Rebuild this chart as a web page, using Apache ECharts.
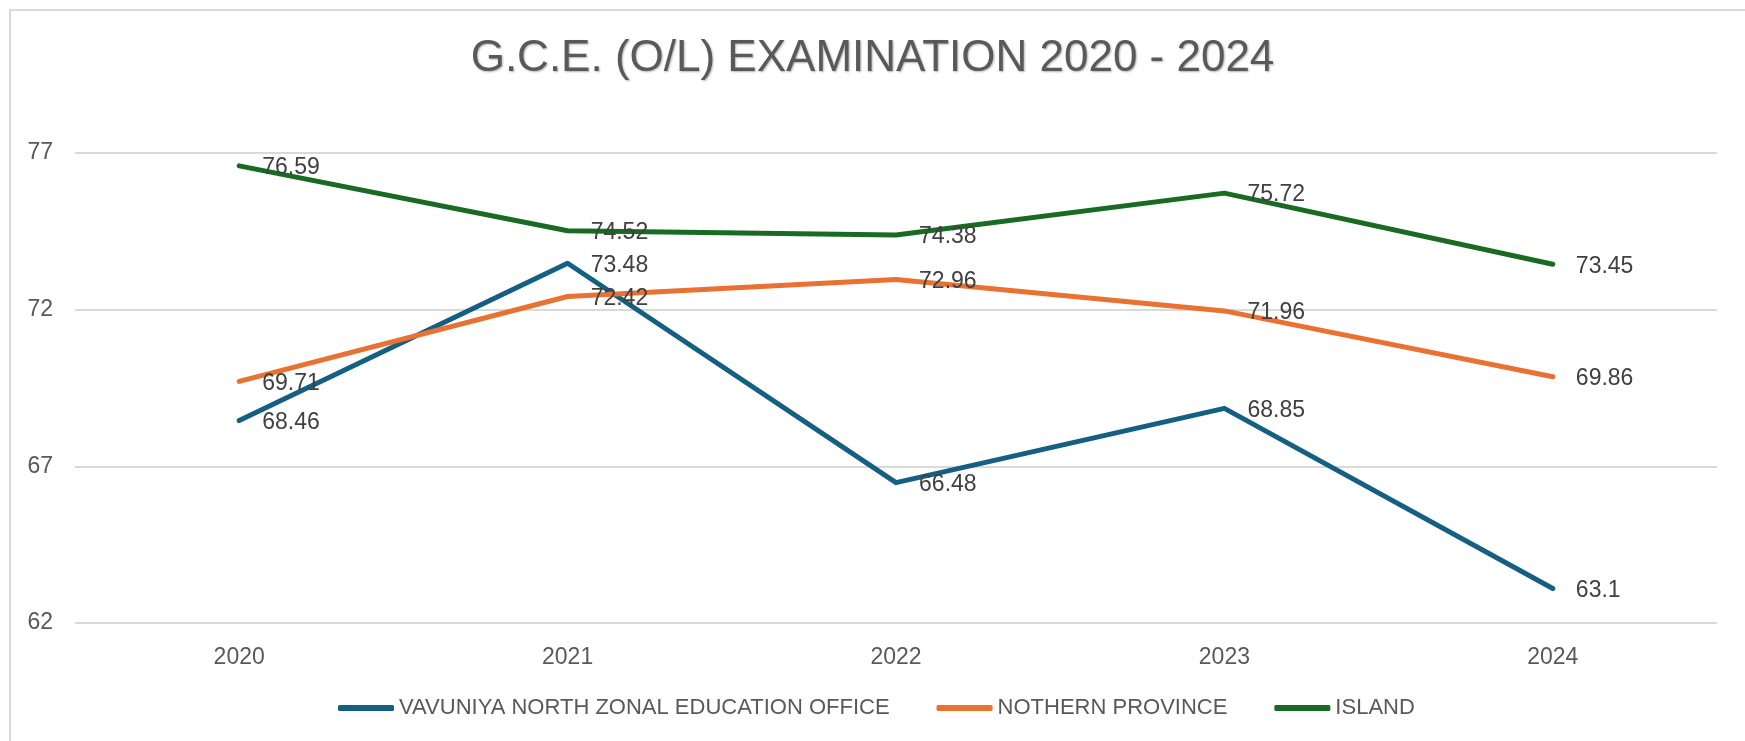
<!DOCTYPE html>
<html>
<head>
    <meta charset="utf-8">
    <title>G.C.E. (O/L) EXAMINATION 2020 - 2024</title>
    <script type="text/javascript" src="https://cdn.jsdelivr.net/npm/echarts@6/dist/echarts.min.js"></script>
    <style>
        html, body { margin: 0; padding: 0; background: #ffffff; }
    </style>
</head>
<body>
<div id="main" style="width: 1745px;height:741px;"></div>
<script type="text/javascript">

    // data
    var years = ['2020', '2021', '2022', '2023', '2024'];
    var vavuniyaNorth = [68.46, 73.48, 66.48, 68.85, 63.1];
    var northernProvince = [69.71, 72.42, 72.96, 71.96, 69.86];
    var island = [76.59, 74.52, 74.38, 75.72, 73.45];

    var seriesNames = ['VAVUNIYA NORTH ZONAL EDUCATION OFFICE', 'NOTHERN PROVINCE', 'ISLAND'];
    var seriesColors = ['#156082', '#e97132', '#196b24'];
    var seriesData = [vavuniyaNorth, northernProvince, island];

    var myChart = echarts.init(document.getElementById('main'));

    function makeLine(i) {
        return {
            name: seriesNames[i],
            type: 'line',
            data: seriesData[i],
            symbol: 'circle',
            symbolSize: 0.1,
            showSymbol: true,
            color: seriesColors[i],
            lineStyle: { width: 5, color: seriesColors[i], cap: 'round', join: 'round' },
            itemStyle: { color: seriesColors[i] },
            label: {
                show: true,
                position: 'right',
                distance: 23,
                offset: [0, 2],
                color: '#404040',
                fontSize: 23,
                fontFamily: 'Liberation Sans'
            },
            emphasis: { disabled: true }
        };
    }

    myChart.setOption({
        animation: false,
        textStyle: { fontFamily: 'Liberation Sans' },
        graphic: [{
            type: 'rect',
            shape: { x: 10, y: 10, width: 1800, height: 800 },
            style: { fill: 'none', stroke: '#d9d9d9', lineWidth: 2 },
            silent: true
        }],
        title: {
            text: 'G.C.E. (O/L) EXAMINATION 2020 - 2024',
            left: 'center',
            top: 32,
            textStyle: {
                color: '#595959',
                fontSize: 44,
                fontWeight: 'normal',
                fontFamily: 'Liberation Sans',
                textShadowColor: 'rgba(0,0,0,0.3)',
                textShadowBlur: 2,
                textShadowOffsetX: 1,
                textShadowOffsetY: 1
            }
        },
        legend: {
            data: seriesNames,
            left: 333,
            top: 692,
            icon: 'roundRect',
            itemWidth: 56,
            itemHeight: 6,
            itemGap: 47,
            textStyle: { color: '#595959', fontSize: 22, fontFamily: 'Liberation Sans' }
        },
        grid: { left: 75, right: 28, top: 153, bottom: 118 },
        xAxis: {
            type: 'category',
            data: years,
            boundaryGap: true,
            axisLine: { show: false },
            axisTick: { show: false },
            axisLabel: { color: '#595959', fontSize: 23, margin: 23 }
        },
        yAxis: {
            type: 'value',
            min: 62,
            max: 77,
            interval: 5,
            axisLine: { show: false },
            axisTick: { show: false },
            axisLabel: { color: '#595959', fontSize: 23, margin: 22 },
            splitLine: { lineStyle: { color: '#d9d9d9', width: 2 } }
        },
        series: [makeLine(0), makeLine(1), makeLine(2)]
    });

</script>
</body>
</html>
